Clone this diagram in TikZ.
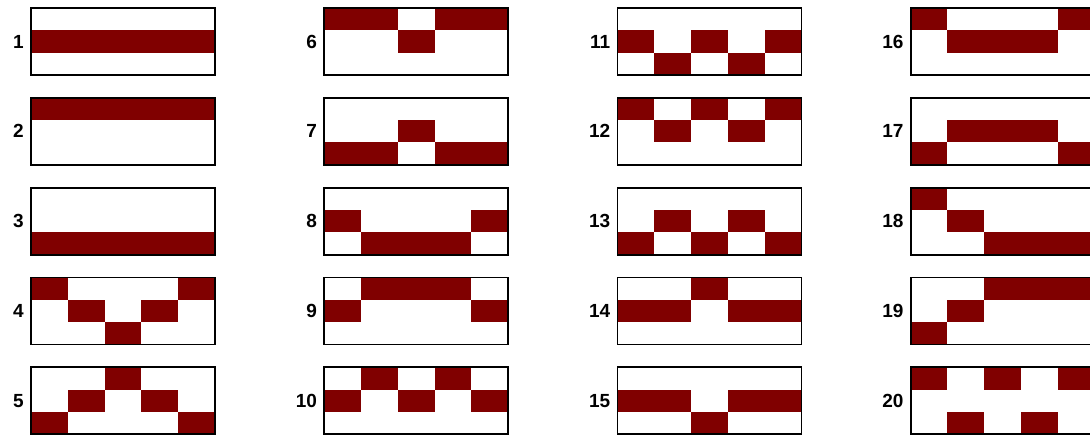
\documentclass[tikz,border=0pt]{standalone}
\usepackage{fontspec}
\setmainfont{Liberation Sans}
\definecolor{maroon}{HTML}{800000}
\tikzset{
  cell/.style={fill=maroon},
  frame/.style={draw=black, line width=1.8pt},
  lab/.style={font=\bfseries\fontsize{19}{19}\selectfont, inner sep=0pt, anchor=east}
}
\newcommand\patbox[8]{%
  \begin{scope}[shift={(31+293.2*#2, 8+89.8*#3)}]
    \foreach \rr [count=\k from 0] in {#4,#5,#6,#7,#8}
      \fill[cell] (\k*36.8, {(\rr-1)*22.333}) rectangle ++(36.8,22.333);
    \draw[frame] (0,0) rectangle (184,67);
    \node[lab] (l#1) at (-7,33.5) {#1};
  \end{scope}}
\begin{document}
\begin{tikzpicture}[x=1pt,y=-1pt]
\useasboundingbox (0,0) rectangle (1090,437);
\clip (0,0) rectangle (1090,437);
\fill[white] (0,0) rectangle (1090,437);
\patbox{1}{0}{0}{2}{2}{2}{2}{2}
\patbox{2}{0}{1}{1}{1}{1}{1}{1}
\patbox{3}{0}{2}{3}{3}{3}{3}{3}
\patbox{4}{0}{3}{1}{2}{3}{2}{1}
\patbox{5}{0}{4}{3}{2}{1}{2}{3}
\patbox{6}{1}{0}{1}{1}{2}{1}{1}
\patbox{7}{1}{1}{3}{3}{2}{3}{3}
\patbox{8}{1}{2}{2}{3}{3}{3}{2}
\patbox{9}{1}{3}{2}{1}{1}{1}{2}
\patbox{10}{1}{4}{2}{1}{2}{1}{2}
\patbox{11}{2}{0}{2}{3}{2}{3}{2}
\patbox{12}{2}{1}{1}{2}{1}{2}{1}
\patbox{13}{2}{2}{3}{2}{3}{2}{3}
\patbox{14}{2}{3}{2}{2}{1}{2}{2}
\patbox{15}{2}{4}{2}{2}{3}{2}{2}
\patbox{16}{3}{0}{1}{2}{2}{2}{1}
\patbox{17}{3}{1}{3}{2}{2}{2}{3}
\patbox{18}{3}{2}{1}{2}{3}{3}{3}
\patbox{19}{3}{3}{3}{2}{1}{1}{1}
\patbox{20}{3}{4}{1}{3}{1}{3}{1}
\end{tikzpicture}
\end{document}
